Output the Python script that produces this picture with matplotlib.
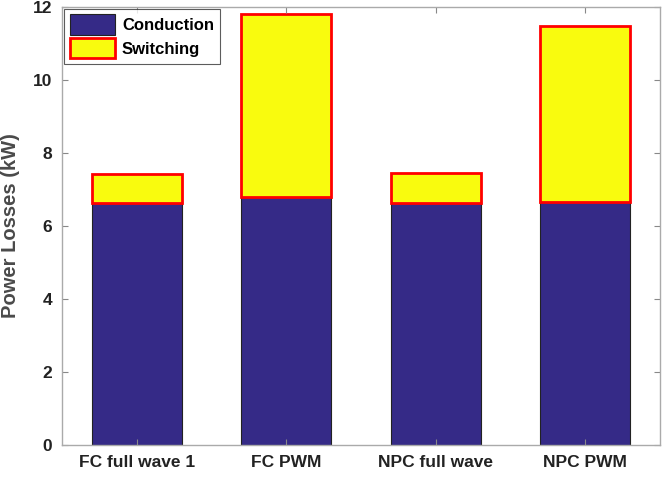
import matplotlib.pyplot as plt
import numpy as np

plt.rcParams['font.family'] = ['Liberation Sans', 'DejaVu Sans']
plt.rcParams['font.weight'] = 'bold'

categories = ['FC full wave 1', 'FC PWM', 'NPC full wave', 'NPC PWM']
conduction = [6.63, 6.79, 6.63, 6.66]
switching = [0.79, 5.02, 0.82, 4.82]

x = np.arange(1, len(categories) + 1)

fig = plt.figure(figsize=(6.69, 4.79), dpi=100)
ax = fig.add_axes([0.0927, 0.071, 0.8938, 0.9144])

ax.bar(x, conduction, width=0.6, color='#352a87', edgecolor='#222222',
       linewidth=0.8, label='Conduction')
ax.bar(x, switching, width=0.6, bottom=conduction, color='#f9fb0e',
       edgecolor='#ff0000', linewidth=2.0, label='Switching')

ax.set_xlim(0.5, 4.5)
ax.set_ylim(0, 12)
ax.set_xticks(x)
ax.set_xticklabels(categories)
ax.set_yticks(range(0, 13, 2))
ax.tick_params(direction='in', top=True, right=True, length=4,
               color='#888888', labelsize=12.5, labelcolor='#222222', pad=7)
for s in ax.spines.values():
    s.set_color('#aaaaaa')
    s.set_linewidth(1.0)
ax.set_ylabel('Power Losses (kW)', fontsize=14.5, fontweight='bold',
              color='#4a4a4a', labelpad=9)

leg = ax.legend(loc='upper left', fontsize=12, frameon=True, fancybox=False,
                borderaxespad=0.1, handlelength=2.7, handleheight=1.5,
                handletextpad=0.45, borderpad=0.35, labelspacing=0.2)
leg.get_frame().set_edgecolor('#333333')
leg.get_frame().set_linewidth(0.8)

fig.savefig('out.png', dpi=100)
